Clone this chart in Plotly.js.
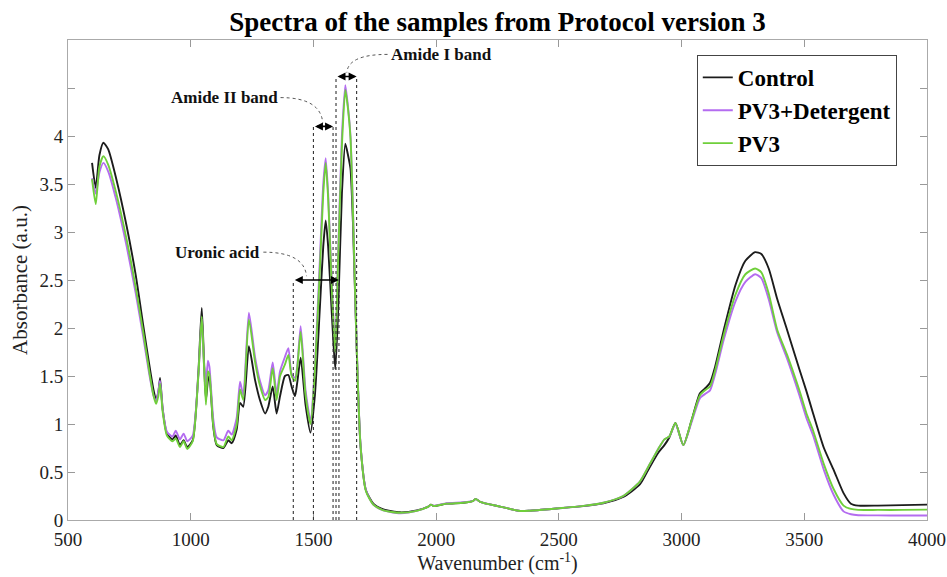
<!DOCTYPE html>
<html>
<head>
<meta charset="utf-8">
<script src="https://cdn.plot.ly/plotly-3.0.1.min.js"></script>
<style>html,body{margin:0;padding:0;background:#fff;}#chart{width:947px;height:577px;}</style>
</head>
<body>
<div id="chart"></div>
<script>
// Wavenumber (cm^-1)
const wavenumber = [598, 613, 628, 644, 664, 696, 739, 776, 807, 831, 848, 859, 868, 875, 886, 903, 926, 939, 956, 971, 986, 1008, 1031, 1045, 1054, 1062, 1070, 1076, 1092, 1106, 1133, 1153, 1167, 1187, 1201, 1214, 1237, 1262, 1282, 1303, 1316, 1334, 1350, 1364, 1384, 1398, 1411, 1425, 1434, 1448, 1468, 1488, 1506, 1526, 1540, 1550, 1560, 1576, 1589, 1601, 1616, 1630, 1641, 1651, 1661, 1676, 1692, 1714, 1744, 1785, 1853, 1921, 1968, 1979, 1990, 2043, 2111, 2151, 2161, 2179, 2260, 2342, 2382, 2491, 2600, 2681, 2762, 2830, 2870, 2905, 2930, 2950, 2975, 3007, 3041, 3075, 3100, 3116, 3137, 3172, 3220, 3260, 3300, 3325, 3355, 3390, 3430, 3480, 3509, 3536, 3580, 3620, 3660, 3690, 3720, 3800, 3900, 4000];

const control = [3.72, 3.46, 3.80, 3.93, 3.86, 3.56, 3.06, 2.55, 2.02, 1.62, 1.36, 1.25, 1.33, 1.48, 1.15, 0.90, 0.84, 0.88, 0.78, 0.83, 0.76, 0.83, 1.53, 2.21, 1.67, 1.25, 1.45, 1.50, 0.97, 0.78, 0.75, 0.83, 0.80, 0.94, 1.22, 1.18, 1.81, 1.46, 1.25, 1.11, 1.18, 1.39, 1.11, 1.29, 1.50, 1.51, 1.39, 1.29, 1.43, 1.69, 1.20, 0.91, 1.30, 2.20, 2.85, 3.12, 2.85, 2.10, 1.57, 2.20, 3.40, 3.92, 3.80, 3.66, 3.10, 1.80, 0.77, 0.31, 0.17, 0.11, 0.08, 0.10, 0.14, 0.16, 0.145, 0.17, 0.18, 0.20, 0.22, 0.19, 0.14, 0.094, 0.097, 0.12, 0.145, 0.175, 0.24, 0.37, 0.55, 0.70, 0.78, 0.86, 1.01, 0.78, 1.04, 1.32, 1.38, 1.43, 1.60, 1.98, 2.45, 2.70, 2.79, 2.77, 2.62, 2.30, 1.98, 1.57, 1.34, 1.11, 0.75, 0.52, 0.28, 0.17, 0.15, 0.15, 0.155, 0.16];

const pv3Detergent = [3.56, 3.40, 3.62, 3.72, 3.63, 3.34, 2.85, 2.36, 1.90, 1.52, 1.30, 1.24, 1.34, 1.45, 1.15, 0.92, 0.87, 0.93, 0.84, 0.90, 0.82, 0.88, 1.50, 2.10, 1.62, 1.40, 1.66, 1.60, 1.05, 0.86, 0.83, 0.93, 0.89, 1.06, 1.44, 1.30, 2.16, 1.70, 1.45, 1.30, 1.35, 1.64, 1.32, 1.55, 1.70, 1.79, 1.52, 1.48, 1.60, 2.02, 1.35, 1.04, 1.60, 2.70, 3.50, 3.77, 3.40, 2.40, 1.78, 2.80, 4.00, 4.53, 4.30, 4.00, 3.25, 1.85, 0.78, 0.31, 0.16, 0.10, 0.07, 0.095, 0.14, 0.16, 0.15, 0.175, 0.185, 0.20, 0.22, 0.19, 0.14, 0.094, 0.097, 0.12, 0.147, 0.18, 0.25, 0.40, 0.58, 0.74, 0.84, 0.87, 1.00, 0.78, 1.02, 1.27, 1.32, 1.35, 1.52, 1.88, 2.28, 2.48, 2.56, 2.52, 2.30, 1.95, 1.68, 1.30, 1.06, 0.88, 0.52, 0.26, 0.09, 0.06, 0.05, 0.048, 0.047, 0.047];

const pv3 = [3.55, 3.29, 3.68, 3.79, 3.70, 3.41, 2.92, 2.42, 1.95, 1.55, 1.30, 1.21, 1.29, 1.42, 1.12, 0.88, 0.82, 0.85, 0.76, 0.82, 0.74, 0.82, 1.50, 2.12, 1.62, 1.20, 1.55, 1.52, 0.98, 0.79, 0.76, 0.87, 0.83, 0.99, 1.36, 1.25, 2.09, 1.65, 1.40, 1.25, 1.28, 1.58, 1.25, 1.50, 1.62, 1.72, 1.50, 1.45, 1.58, 1.96, 1.30, 1.00, 1.55, 2.60, 3.40, 3.72, 3.35, 2.35, 1.75, 2.75, 3.90, 4.48, 4.28, 3.98, 3.22, 1.82, 0.77, 0.30, 0.16, 0.10, 0.075, 0.095, 0.14, 0.16, 0.145, 0.17, 0.18, 0.20, 0.22, 0.19, 0.14, 0.094, 0.097, 0.12, 0.147, 0.18, 0.25, 0.40, 0.58, 0.74, 0.84, 0.87, 1.01, 0.78, 1.04, 1.30, 1.36, 1.39, 1.56, 1.93, 2.35, 2.56, 2.62, 2.58, 2.36, 1.98, 1.72, 1.35, 1.11, 0.93, 0.58, 0.32, 0.15, 0.115, 0.105, 0.105, 0.105, 0.108];

const seriesNames = ['Control', 'PV3+Detergent', 'PV3'];
const seriesColors = ['#1c1c1c', '#b46cf0', '#6fcf3a'];

// Band regions
const bandStart = [1418, 1500, 1592];
const bandEnd = [1604, 1580, 1676];
const bandLevel = [2.5, 4.1, 4.62];
const bandLabels = ['Uronic acid', 'Amide II band', 'Amide I band'];
const labelX = [1292, 1362, 1806];
const labelY = [2.79, 4.40, 4.85];
const labelSide = ['right', 'right', 'left'];
const leaderEndX = [1472, 1538, 1636];

const yTickVals = [0, 0.5, 1, 1.5, 2, 2.5, 3, 3.5, 4, 4.5];
const yTickText = ['0', '0.5', '1', '1.5', '2', '2.5', '3', '3.5', '4', ''];
const xTickVals = [500, 1000, 1500, 2000, 2500, 3000, 3500, 4000];

const serif = 'Liberation Serif, Times New Roman, serif';

const traces = seriesNames.map((n, i) => ({
  x: wavenumber,
  y: [control, pv3Detergent, pv3][i],
  type: 'scatter',
  mode: 'lines',
  name: n,
  line: {color: seriesColors[i], width: 1.9, shape: 'spline', smoothing: 0.6}
}));

const shapes = [];
const annotations = [];
const dash = {color: '#333', width: 1.1, dash: 'dot'};
for (let i = 0; i < bandStart.length; i++) {
  [bandStart[i], bandEnd[i]].forEach(xv => {
    shapes.push({type: 'line', xref: 'x', yref: 'y', x0: xv, x1: xv, y0: 0, y1: bandLevel[i], line: dash});
  });
  annotations.push({
    xref: 'x', yref: 'y', axref: 'x', ayref: 'y',
    x: bandEnd[i], y: bandLevel[i], ax: bandStart[i], ay: bandLevel[i],
    text: '', showarrow: true, arrowhead: 2, startarrowhead: 2, arrowside: 'end+start',
    arrowsize: 1, startarrowsize: 1, arrowwidth: 1.6, arrowcolor: '#000', standoff: 0, startstandoff: 0
  });
  const x0 = labelX[i] + (labelSide[i] === 'right' ? 4 : -4);
  const y0 = labelY[i];
  const x1 = leaderEndX[i];
  const y1 = bandLevel[i] + 0.04;
  const cx = x1 + (labelSide[i] === 'right' ? -10 : 6);
  shapes.push({type: 'path', xref: 'x', yref: 'y',
    path: `M ${x0},${y0} Q ${cx},${y0} ${x1},${y1}`,
    line: {color: '#555', width: 1, dash: 'dot'}});
  annotations.push({
    xref: 'x', yref: 'y', x: labelX[i], y: labelY[i], text: bandLabels[i], showarrow: false,
    xanchor: labelSide[i], yanchor: 'middle',
    font: {family: serif, size: 17, color: '#111', weight: 'bold'}
  });
}

const layout = {
  width: 947, height: 577,
  margin: {l: 68, r: 20, t: 40, b: 57},
  paper_bgcolor: '#fff', plot_bgcolor: '#fff',
  showlegend: true,
  title: {text: 'Spectra of the samples from Protocol version 3', font: {family: serif, size: 27, color: '#000', weight: 'bold'},
          x: 0.5, xref: 'paper', xanchor: 'center', y: 0.962, yref: 'container', yanchor: 'middle'},
  xaxis: {
    range: [500, 4000], tickvals: xTickVals, ticks: 'inside', ticklen: 7, tickcolor: '#999',
    showline: true, linecolor: '#aaa', linewidth: 1, mirror: 'ticks', showgrid: false, zeroline: false,
    tickfont: {family: serif, size: 19, color: '#222'}, ticklabelstandoff: 2,
    title: {text: 'Wavenumber (cm<sup>-1</sup>)', font: {family: serif, size: 20, color: '#222'}, standoff: 4}
  },
  yaxis: {
    range: [0, 5], tickvals: yTickVals, ticktext: yTickText, ticks: 'inside', ticklen: 7, tickcolor: '#999',
    showline: true, linecolor: '#aaa', linewidth: 1, mirror: 'ticks', showgrid: false, zeroline: false,
    tickfont: {family: serif, size: 19, color: '#222'},
    title: {text: 'Absorbance (a.u.)', font: {family: serif, size: 21, color: '#222'}, standoff: 6}
  },
  legend: {
    x: 0.732, y: 0.969, xanchor: 'left', yanchor: 'top',
    bgcolor: '#fff', bordercolor: '#444', borderwidth: 1,
    font: {family: serif, size: 23, color: '#000', weight: 'bold'},
    tracegroupgap: 0
  },
  shapes: shapes,
  annotations: annotations
};

Plotly.newPlot('chart', traces, layout, {displayModeBar: false, staticPlot: true});
</script>
</body>
</html>
